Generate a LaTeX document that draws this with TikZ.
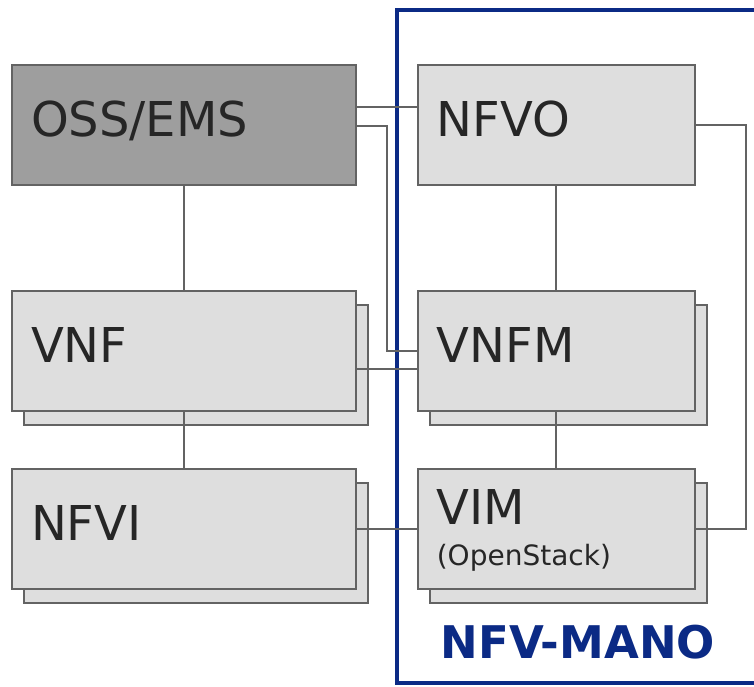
\documentclass[tikz,border=0pt]{standalone}
\usepackage{fontspec}
\setmainfont{DejaVu Sans}
\usetikzlibrary{positioning,shadows}

\definecolor{manoblue}{HTML}{0B2A85}
\definecolor{boxgray}{HTML}{DEDEDE}
\definecolor{ossgray}{HTML}{9E9E9E}
\definecolor{linegray}{HTML}{636363}
\definecolor{txtgray}{HTML}{262626}

\begin{document}
\begin{tikzpicture}[
    x=1pt, y=-1pt,
    box/.style={draw=linegray, line width=1.8pt, fill=boxgray, text=txtgray,
      minimum height=120pt, inner xsep=19pt, inner ysep=0pt, text depth=12pt,
      align=left, font=\fontsize{48}{58}\selectfont},
    wide/.style={text width=306pt},
    narrow/.style={text width=239pt},
    stacked/.style={copy shadow={shadow xshift=12pt, shadow yshift=-14pt, line width=1.8pt}},
    conn/.style={draw=linegray, line width=1.8pt},
    mano/.style={draw=manoblue, line width=4pt},
    manolabel/.style={text=manoblue, font=\fontsize{45}{54}\selectfont\bfseries}
  ]
    \useasboundingbox (0,0) rectangle (754,686);
    \clip (0,0) rectangle (754,686);
    \draw[mano] (770,10) -| (397,683) -- (770,683);
    \node[manolabel] (manolbl) at (578,642) {NFV-MANO};

    \node[box, wide, fill=ossgray] (oss) at (184,125) {OSS/EMS};
    \node[box, narrow, right=60pt of oss] (nfvo) {NFVO};
    \node[box, wide, stacked, below=104pt of oss] (vnf) {VNF};
    \node[box, narrow, stacked, right=60pt of vnf] (vnfm) {VNFM};
    \node[box, wide, stacked, below=56pt of vnf] (nfvi) {NFVI};
    \node[box, narrow, stacked, right=60pt of nfvi, text depth=44pt] (vim) {VIM\\[-17pt]{\fontsize{28}{34}\selectfont (OpenStack)}};

    \draw[conn] ([yshift=18pt]oss.east) -- ([yshift=18pt]nfvo.west);
    \draw[conn] ([yshift=-1pt]oss.east) -| ([xshift=-30pt]vnfm.west) -- (vnfm.west);
    \draw[conn] ([yshift=-18pt]vnf.east) -- ([yshift=-18pt]vnfm.west);
    \draw[conn] (nfvi.east) -- (vim.west);
    \draw[conn] (nfvo.east) -- ++(50,0) |- (vim.east);
    \draw[conn] (oss.south) -- (vnf.north);
    \draw[conn] (vnf.south) -- (nfvi.north);
    \draw[conn] (nfvo.south) -- (vnfm.north);
    \draw[conn] (vnfm.south) -- (vim.north);
  \end{tikzpicture}
\end{document}
